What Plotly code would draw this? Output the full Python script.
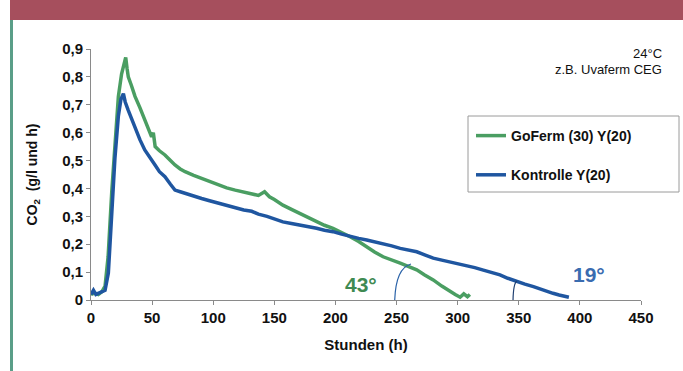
import plotly.graph_objects as go

# ---- data ----
goferm_t = [0, 3, 6, 9, 11.5, 14, 17, 19.6, 22.4, 25, 27, 28.4, 29.5, 30.5, 33, 36, 40, 44, 47, 49.6,
            51, 52.5, 56, 60.5, 65, 68.7, 73, 77, 84, 90.5, 97, 104, 111, 118, 125, 131.5, 137, 142,
            146, 150, 157, 164, 171, 178, 184.6, 191, 198, 205, 212, 219, 225.6, 232, 239, 246, 253,
            260, 266.5, 273, 280, 287, 293.7, 298, 302, 305, 308, 310]
goferm_v = [0.02, 0.025, 0.02, 0.03, 0.05, 0.155, 0.39, 0.57, 0.73, 0.81, 0.85, 0.87, 0.83, 0.80, 0.77,
            0.73, 0.69, 0.645, 0.615, 0.585, 0.60, 0.55, 0.535, 0.52, 0.50, 0.484, 0.47, 0.46, 0.447,
            0.436, 0.424, 0.412, 0.402, 0.394, 0.386, 0.38, 0.375, 0.388, 0.37, 0.36, 0.34, 0.325,
            0.31, 0.295, 0.28, 0.268, 0.257, 0.243, 0.227, 0.21, 0.19, 0.172, 0.155, 0.142, 0.132,
            0.12, 0.108, 0.09, 0.072, 0.05, 0.03, 0.02, 0.01, 0.022, 0.012, 0.02]

kontrolle_t = [0, 2, 4, 7, 9, 11.5, 14.2, 16.9, 19.6, 22.4, 24.5, 26.5, 28, 30.5, 33, 36, 40, 44, 48,
               52.4, 56, 60.5, 65, 68.7, 73, 77, 84, 90.5, 97, 104, 111, 118, 125, 131.5, 137, 144,
               150, 157, 164, 171, 178, 184.6, 191, 198, 205, 212, 219, 225.6, 232, 239, 246, 253,
               260, 266.5, 273, 280, 287, 293.7, 300, 307, 314, 321, 328, 334.6, 341, 348, 355, 362,
               368, 373, 378, 383, 387, 391]
kontrolle_v = [0.02, 0.035, 0.02, 0.025, 0.03, 0.035, 0.097, 0.31, 0.51, 0.66, 0.72, 0.74, 0.71, 0.68,
               0.65, 0.615, 0.575, 0.538, 0.51, 0.484, 0.46, 0.442, 0.415, 0.394, 0.388, 0.382, 0.373,
               0.364, 0.356, 0.347, 0.338, 0.329, 0.323, 0.318, 0.308, 0.30, 0.29, 0.28, 0.274, 0.269,
               0.263, 0.257, 0.25, 0.245, 0.236, 0.227, 0.221, 0.215, 0.209, 0.203, 0.194, 0.185,
               0.179, 0.173, 0.162, 0.15, 0.143, 0.137, 0.131, 0.125, 0.116, 0.107, 0.098, 0.09,
               0.078, 0.066, 0.057, 0.048, 0.038, 0.03, 0.024, 0.018, 0.014, 0.01]

series_names = ["GoFerm (30) Y(20)", "Kontrolle Y(20)"]
x_ticks = [0, 50, 100, 150, 200, 250, 300, 350, 400, 450]
y_ticks = [0, 0.1, 0.2, 0.3, 0.4, 0.5, 0.6, 0.7, 0.8, 0.9]
y_ticklabels = ["0", "0,1", "0,2", "0,3", "0,4", "0,5", "0,6", "0,7", "0,8", "0,9"]

GREEN = "#4a9e62"
BLUE = "#1f56a0"
FONT = "Liberation Sans, Arial, sans-serif"

fig = go.Figure()
fig.add_trace(go.Scatter(x=goferm_t, y=goferm_v, mode="lines", name=series_names[0],
                         line=dict(color=GREEN, width=3.5), legendgroup="a"))
fig.add_trace(go.Scatter(x=kontrolle_t, y=kontrolle_v, mode="lines", name=series_names[1],
                         line=dict(color=BLUE, width=3.5), legendgroup="b"))

L, R, T, B = 91, 42, 49, 71
W, H = 683, 371
pw, ph = W - L - R, H - T - B


def px(x):
    return (x - L) / pw


def py(y):
    return (H - B - y) / ph


shapes = [
    # banner
    dict(type="rect", xref="paper", yref="paper", x0=px(10), x1=px(683), y0=py(20), y1=py(0),
         fillcolor="#a64f5d", line=dict(width=0), layer="below"),
    # green side line
    dict(type="rect", xref="paper", yref="paper", x0=px(10), x1=px(13), y0=py(371), y1=py(20),
         fillcolor="#5a9e88", line=dict(width=0), layer="below"),
    # legend box
    dict(type="rect", xref="paper", yref="paper", x0=px(468), x1=px(679), y0=py(192), y1=py(116),
         fillcolor="white", line=dict(color="#9a9a9a", width=1), layer="above"),
    # angle arcs
    dict(type="path", xref="x", yref="y", path="M 248.5,0 Q 249.5,0.115 261.8,0.129",
         line=dict(color="#2a62a8", width=1.2)),
    dict(type="path", xref="x", yref="y", path="M 345.3,0 Q 345.6,0.06 348.5,0.068",
         line=dict(color="#1f3f70", width=1.2)),
]

annotations = [
    dict(text="24°C", xref="paper", yref="paper", x=px(664), y=py(53), xanchor="right",
         yanchor="middle", showarrow=False, font=dict(family=FONT, size=13, color="#111")),
    dict(text="z.B. Uvaferm CEG", xref="paper", yref="paper", x=px(664), y=py(69), xanchor="right",
         yanchor="middle", showarrow=False, font=dict(family=FONT, size=13, color="#111")),
    dict(text="43°", xref="x", yref="y", x=221, y=0.054, showarrow=False,
         font=dict(family=FONT, size=21, color="#3f8a52", weight="bold")),
    dict(text="19°", xref="x", yref="y", x=407.5, y=0.09, showarrow=False,
         font=dict(family=FONT, size=21, color="#3a6cb0", weight="bold")),
]

fig.update_layout(
    width=W, height=H,
    margin=dict(l=L, r=R, t=T, b=B, pad=0),
    paper_bgcolor="white", plot_bgcolor="white",
    font=dict(family=FONT, color="#111"),
    shapes=shapes,
    annotations=annotations,
    showlegend=True,
    legend=dict(x=px(471), y=py(120), xanchor="left", yanchor="top", bgcolor="rgba(0,0,0,0)",
                borderwidth=0, font=dict(family=FONT, size=14, color="#111", weight="bold"),
                traceorder="grouped", tracegroupgap=18, itemwidth=30),
    xaxis=dict(range=[0, 450], tickvals=x_ticks, ticktext=[str(v) for v in x_ticks],
               showgrid=False, zeroline=False, showline=True, linecolor="#8a8a8a", linewidth=1,
               ticks="outside", ticklen=4, tickcolor="#8a8a8a",
               tickfont=dict(family=FONT, size=15, color="#111", weight="bold"),
               title=dict(text="Stunden (h)", standoff=14,
                          font=dict(family=FONT, size=15, color="#111", weight="bold"))),
    yaxis=dict(range=[0, 0.9], tickvals=y_ticks, ticktext=y_ticklabels,
               showgrid=False, zeroline=False, showline=True, linecolor="#8a8a8a", linewidth=1,
               ticks="outside", ticklen=4, tickcolor="#8a8a8a",
               tickfont=dict(family=FONT, size=15, color="#111", weight="bold"),
               title=dict(text="CO<sub>2</sub>  (g/l und h)", standoff=21,
                          font=dict(family=FONT, size=14, color="#111", weight="bold"))),
)

fig.write_html("out.html", config={"displayModeBar": False},
               post_script="document.body.style.margin='0';")
